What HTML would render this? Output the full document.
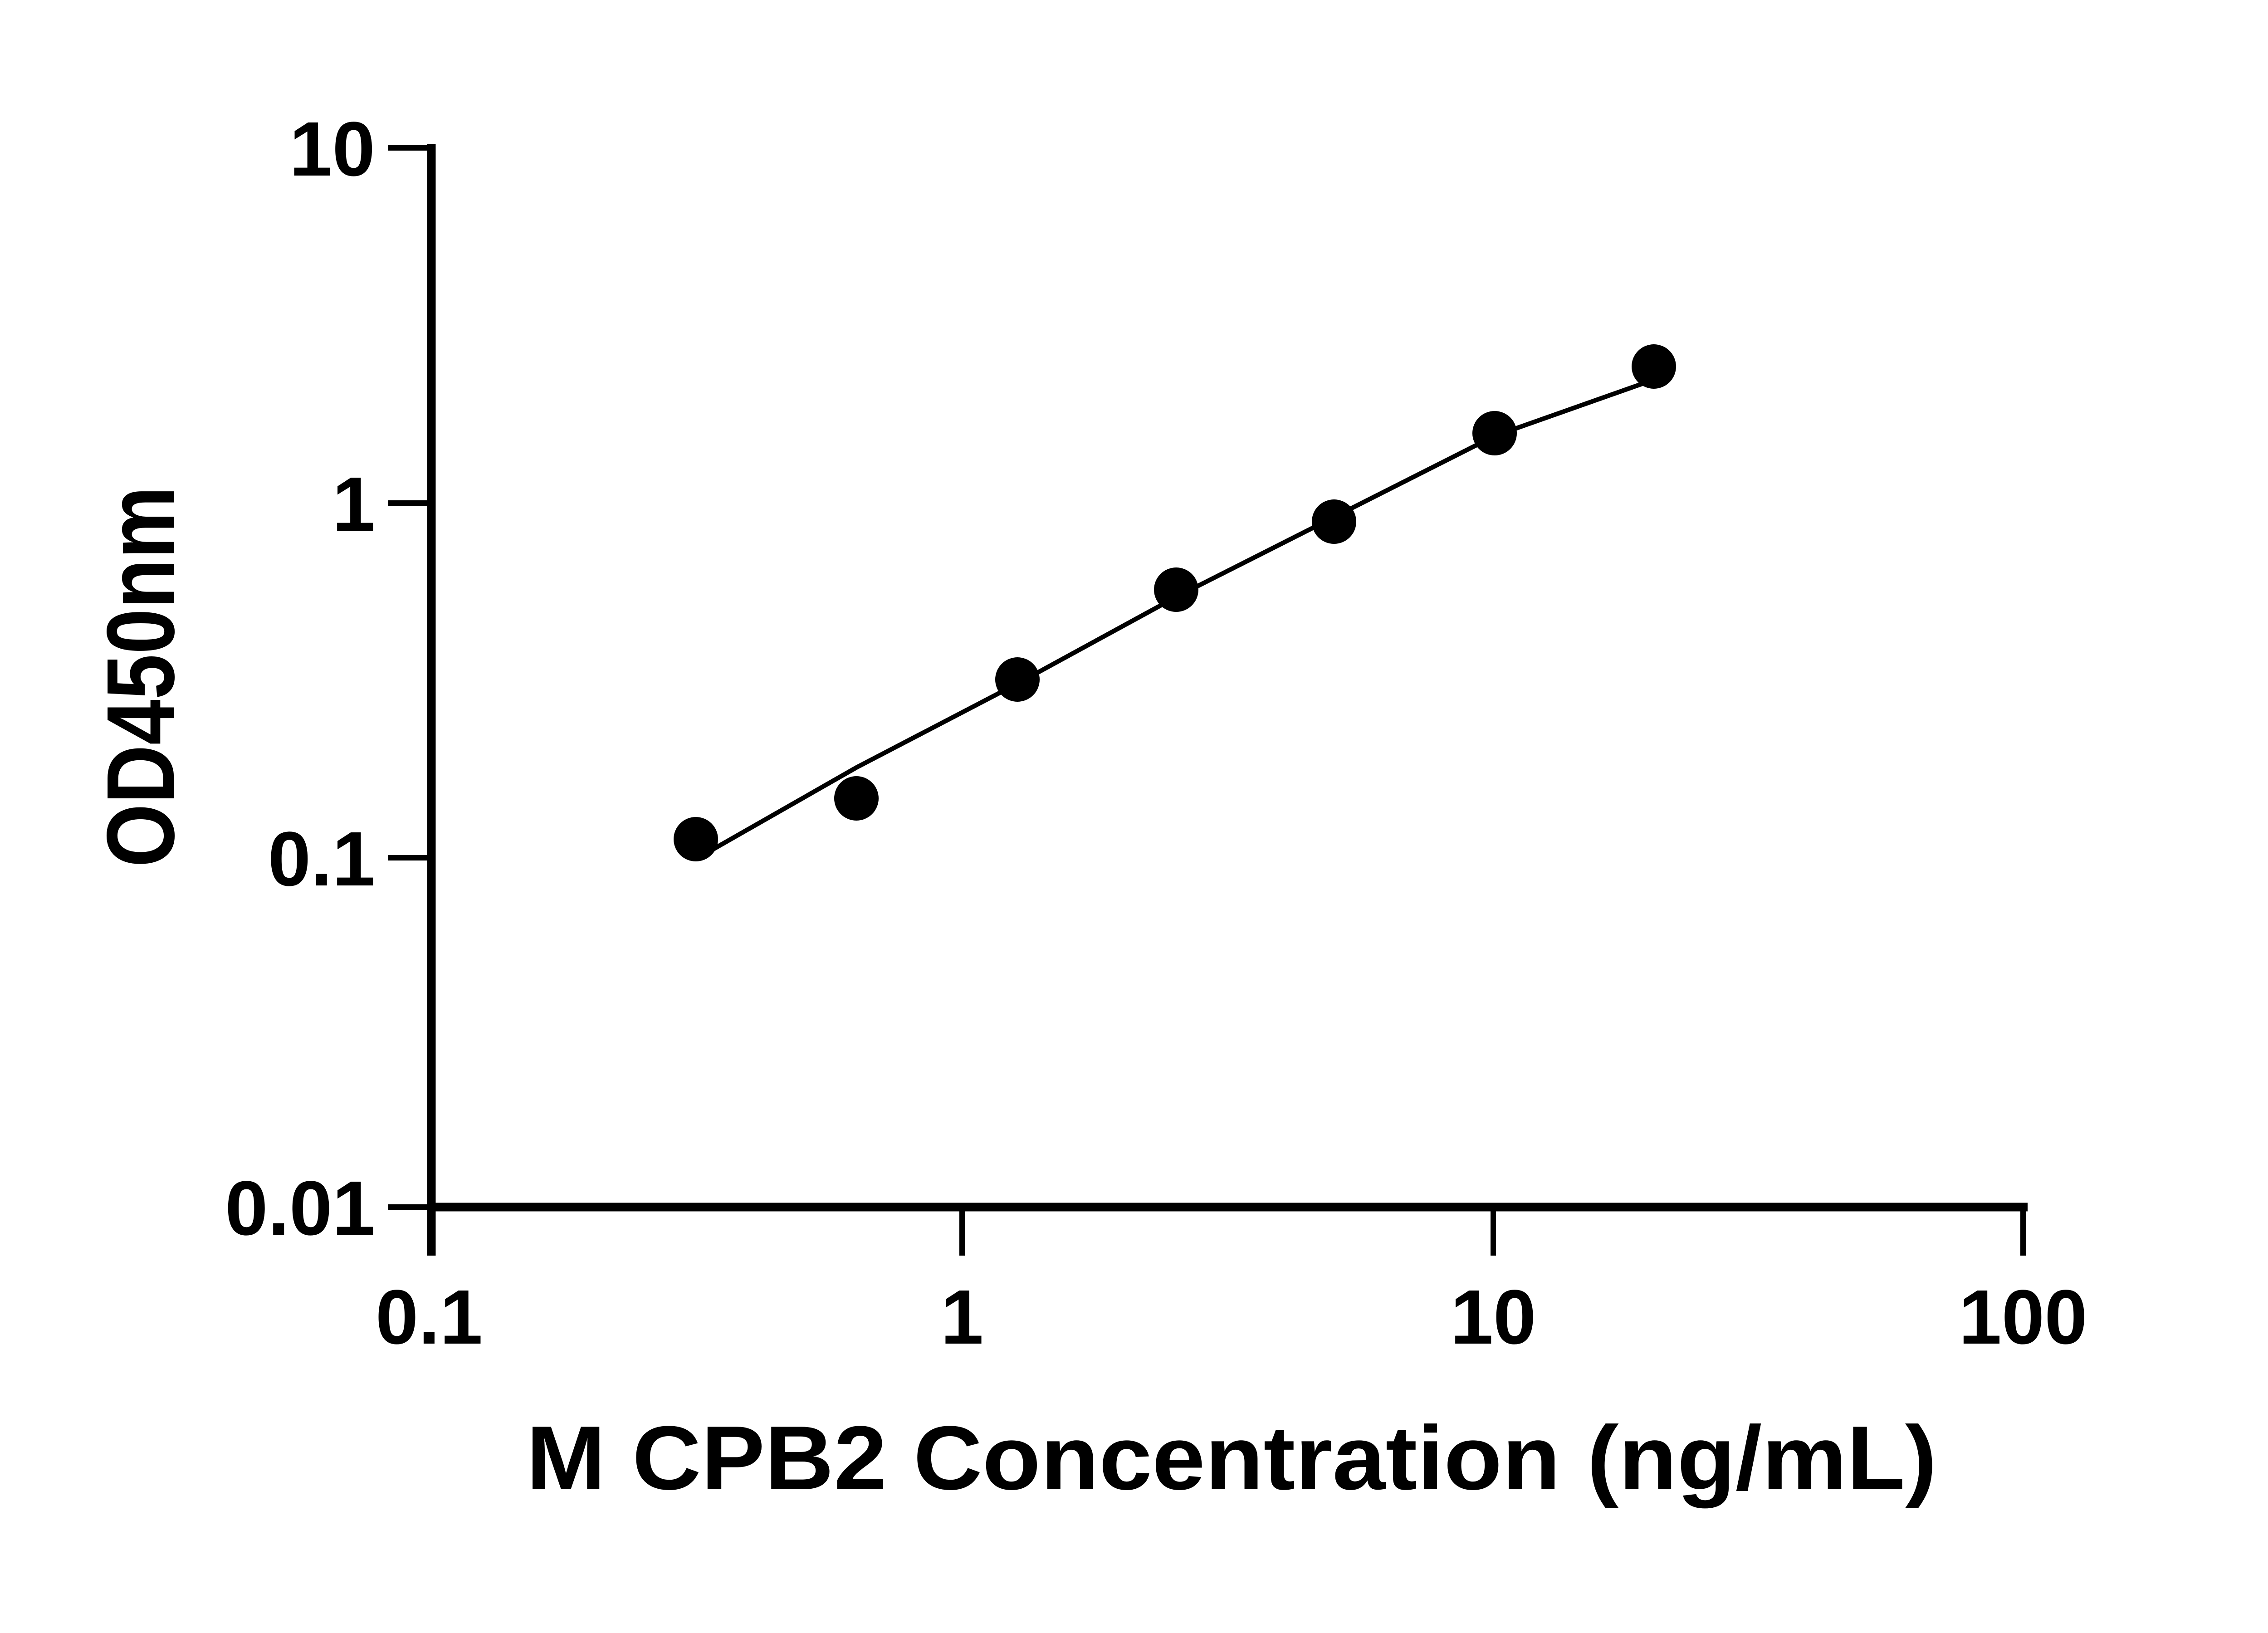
<!DOCTYPE html>
<html><head><meta charset="utf-8"><style>html,body{margin:0;padding:0;background:#fff}svg{display:block}</style></head>
<body>
<svg width="5130" height="3600" viewBox="0 0 5130 3600" xmlns="http://www.w3.org/2000/svg" font-family="Liberation Sans, sans-serif" font-weight="bold">
<rect width="5130" height="3600" fill="#fff"/>
<g stroke="#000" fill="none">
<line x1="951" y1="318" x2="951" y2="2768" stroke-width="19"/>
<line x1="942" y1="2661" x2="4470" y2="2661" stroke-width="19"/>
<g stroke-width="12">
<line x1="856" y1="326" x2="951" y2="326"/>
<line x1="856" y1="1109" x2="951" y2="1109"/>
<line x1="856" y1="1891" x2="951" y2="1891"/>
<line x1="856" y1="2661" x2="951" y2="2661"/>
<line x1="2121" y1="2661" x2="2121" y2="2768"/>
<line x1="3292" y1="2661" x2="3292" y2="2768"/>
<line x1="4460" y1="2661" x2="4460" y2="2768"/>
</g>
<polyline points="1534,1894 1888,1692 2243,1507 2593,1316 2941,1140 3295,961 3646,837" stroke-width="10"/>
</g>
<g fill="#000">
<circle cx="1534" cy="1850" r="49"/>
<circle cx="1888" cy="1760" r="49"/>
<circle cx="2243" cy="1498" r="49"/>
<circle cx="2593" cy="1300" r="49"/>
<circle cx="2941" cy="1150" r="49"/>
<circle cx="3295" cy="955" r="49"/>
<circle cx="3646" cy="808" r="49"/>
</g>
<g font-size="170" text-anchor="end" fill="#000">
<text x="827" y="387">10</text>
<text x="827" y="1170">1</text>
<text x="827" y="1952">0.1</text>
<text x="827" y="2722">0.01</text>
</g>
<g font-size="170" text-anchor="middle" fill="#000">
<text x="946" y="2962">0.1</text>
<text x="2121" y="2962">1</text>
<text x="3292" y="2962">10</text>
<text x="4460" y="2962">100</text>
</g>
<text x="2715" y="3283" font-size="200" text-anchor="middle" textLength="3110" lengthAdjust="spacingAndGlyphs">M CPB2 Concentration (ng/mL)</text>
<text transform="translate(383,1492) rotate(-90)" font-size="212" text-anchor="middle" textLength="840" lengthAdjust="spacingAndGlyphs">OD450nm</text>
</svg>
</body></html>
